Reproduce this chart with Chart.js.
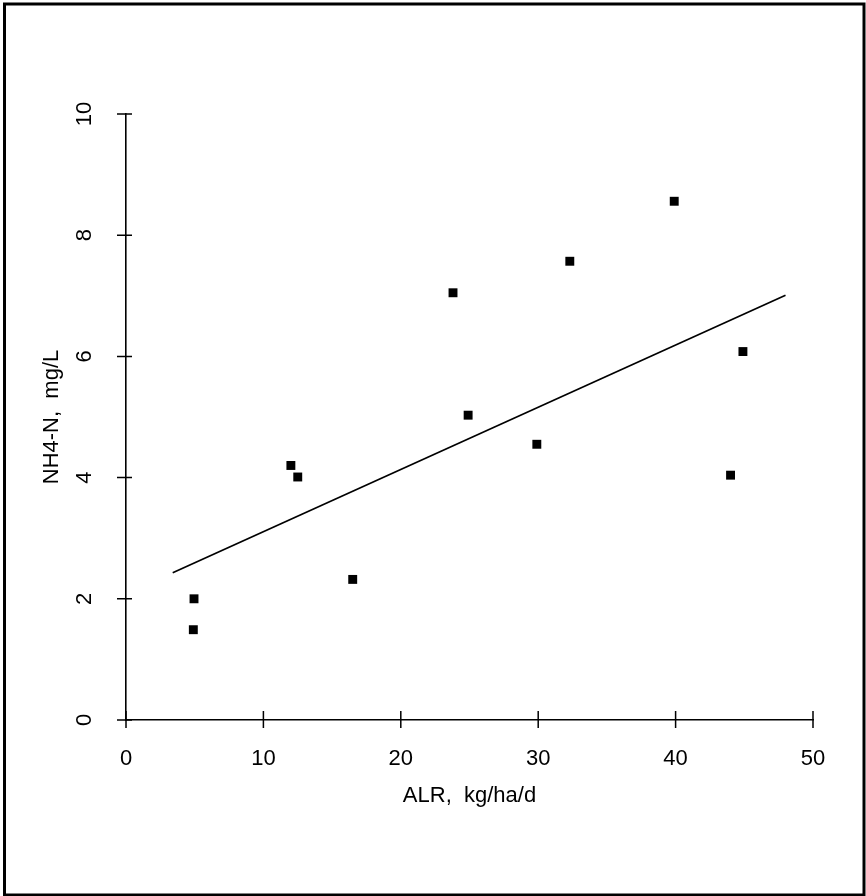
<!DOCTYPE html>
<html>
<head>
<meta charset="utf-8">
<script src="https://cdn.jsdelivr.net/npm/chart.js@4/dist/chart.umd.min.js"></script>
<style>
  html, body { margin: 0; padding: 0; background: #fff; }
  #wrap { width: 866px; height: 896px; }
</style>
</head>
<body>
<div id="wrap"><canvas id="chart"></canvas></div>
<script>
// measured points, ALR (kg/ha/d) vs NH4-N (mg/L)
const alr = [4.9, 4.95, 12.0, 12.5, 16.5, 23.8, 24.9, 29.9, 32.3, 39.9, 44.9, 44.0];
const nh4 = [1.49, 2.0, 4.2, 4.01, 2.32, 7.05, 5.03, 4.55, 7.57, 8.56, 6.08, 4.04];

// fitted line end points
const fitX = [3.4, 48.0];
const fitY = [2.43, 7.01];

const xTicks = [0, 10, 20, 30, 40, 50];
const yTicks = [0, 2, 4, 6, 8, 10];

const fontFamily = '"Liberation Sans", Arial, Helvetica, sans-serif';

// outer frame
const framePlugin = {
  id: 'frame',
  beforeDraw(chart) {
    const ctx = chart.ctx;
    ctx.save();
    ctx.fillStyle = '#fff';
    ctx.fillRect(0, 0, chart.width, chart.height);
    ctx.strokeStyle = '#000';
    ctx.lineWidth = 3;
    ctx.strokeRect(4.5, 4, 859.5, 891);
    ctx.restore();
  }
};

// tick marks that cross the axis line
const crossTicks = {
  id: 'crossTicks',
  afterDraw(chart) {
    const ctx = chart.ctx;
    const xs = chart.scales.x, ys = chart.scales.y;
    const ax = xs.getPixelForValue(0);
    const ay = ys.getPixelForValue(0);
    ctx.save();
    ctx.strokeStyle = '#000';
    ctx.lineWidth = 1.5;
    ctx.beginPath();
    xTicks.forEach(v => {
      const p = xs.getPixelForValue(v);
      ctx.moveTo(p, ay - 9);
      ctx.lineTo(p, ay + 8);
    });
    yTicks.forEach(v => {
      const p = ys.getPixelForValue(v);
      ctx.moveTo(ax - 9, p);
      ctx.lineTo(ax + 6, p);
    });
    ctx.stroke();
    ctx.restore();
  }
};

const points = alr.map((x, i) => ({ x: x, y: nh4[i] }));
const fit = fitX.map((x, i) => ({ x: x, y: fitY[i] }));

new Chart(document.getElementById('chart'), {
  type: 'scatter',
  data: {
    datasets: [{
      data: points,
      pointStyle: 'rect',
      pointRadius: 6.3,
      backgroundColor: '#000',
      borderColor: '#000',
      borderWidth: 0,
    }, {
      data: fit,
      showLine: true,
      pointRadius: 0,
      borderColor: '#000',
      borderWidth: 1.7,
    }]
  },
  options: {
    responsive: true,
    maintainAspectRatio: false,
    animation: false,
    events: [],
    layout: { padding: { left: 0, right: 53, top: 114, bottom: 0 } },
    plugins: {
      legend: { display: false },
      tooltip: { enabled: false },
    },
    scales: {
      x: {
        type: 'linear',
        min: 0,
        max: 50,
        afterFit: (s) => { s.height = 176; },
        afterBuildTicks: (s) => { s.ticks = xTicks.map(v => ({ value: v })); },
        grid: { display: false, drawTicks: false },
        border: { display: true, color: '#000', width: 1.6 },
        ticks: {
          padding: 26,
          color: '#000',
          font: { family: fontFamily, size: 22 },
        },
        title: {
          display: true,
          text: 'ALR,  kg/ha/d',
          color: '#000',
          font: { family: fontFamily, size: 22 },
          padding: { top: 0, bottom: 87 },
        }
      },
      y: {
        type: 'linear',
        min: 0,
        max: 10,
        afterFit: (s) => { s.width = 126; },
        afterBuildTicks: (s) => { s.ticks = yTicks.map(v => ({ value: v })); },
        grid: { display: false, drawTicks: false },
        border: { display: true, color: '#000', width: 1.6 },
        ticks: {
          minRotation: 90,
          maxRotation: 90,
          crossAlign: 'center',
          padding: 29,
          color: '#000',
          font: { family: fontFamily, size: 22 },
        },
        title: {
          display: true,
          text: 'NH4-N,  mg/L',
          color: '#000',
          font: { family: fontFamily, size: 22 },
          padding: { top: 39, bottom: 0 },
        }
      }
    }
  },
  plugins: [framePlugin, crossTicks]
});
</script>
</body>
</html>
